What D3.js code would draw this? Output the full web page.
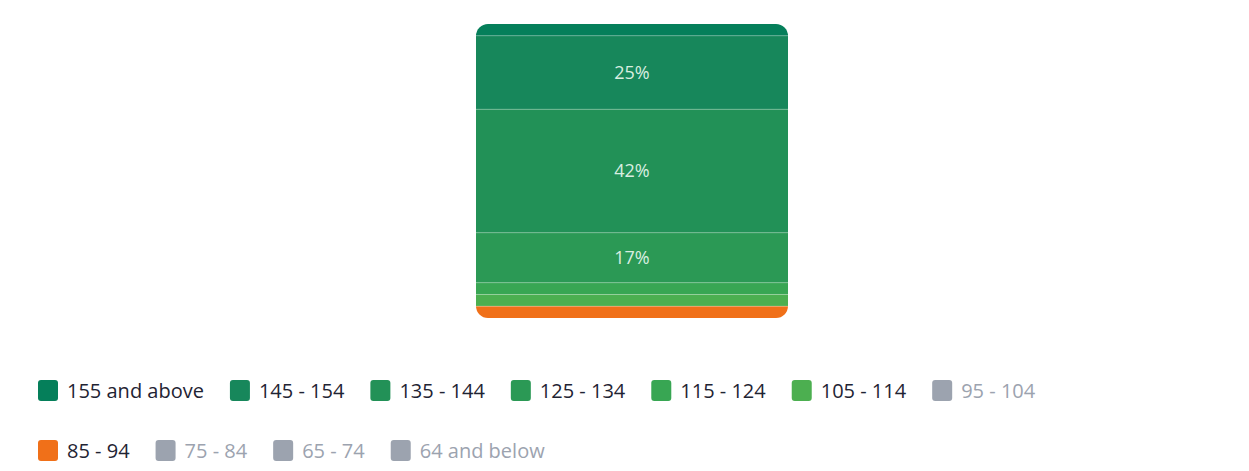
<!DOCTYPE html><html><head><meta charset="utf-8"><script src="https://cdn.jsdelivr.net/npm/d3@7"></script>
<style>body{margin:0;background:#fff}</style></head><body><svg id="c" width="1249" height="471"></svg>
<script>
const categories=["155 and above","145 - 154","135 - 144","125 - 134","115 - 124","105 - 114","95 - 104","85 - 94","75 - 84","65 - 74","64 and below"];
const values=[4,25,42,17,4,4,0,4,0,0,0];
const colors=["#057f5a","#17875b","#229157","#2b9955","#38a653","#4caf50","#9ca3af","#f07019","#9ca3af","#9ca3af","#9ca3af"];
const hidden=["95 - 104","75 - 84","65 - 74","64 and below"];
const svg=d3.select("#c");
const y=d3.scaleLinear().domain([0,100]).range([24,318]);
const x0=476,x1=788;
svg.append("clipPath").attr("id","cp").append("rect").attr("x",x0).attr("y",y(0)).attr("width",x1-x0).attr("height",y(100)-y(0)).attr("rx",12);
const g=svg.append("g").attr("clip-path","url(#cp)");
let acc=0;const segs=[];
categories.forEach((c,i)=>{if(values[i]>0&&!hidden.includes(c)){segs.push({c,v:values[i],a:acc,col:colors[i]});acc+=values[i];}});
g.selectAll("rect").data(segs).join("rect").attr("x",x0).attr("width",x1-x0)
 .attr("y",d=>y(d.a)).attr("height",d=>y(d.a+d.v)-y(d.a)).attr("fill",d=>d.col);
g.selectAll("line").data(segs.slice(1)).join("line").attr("x1",x0).attr("x2",x1)
 .attr("y1",d=>y(d.a)).attr("y2",d=>y(d.a)).attr("stroke","rgba(255,255,255,0.25)").attr("stroke-width",1);
svg.selectAll("text.l").data(segs.filter(d=>d.v>=10)).join("text").attr("class","l")
 .attr("x",(x0+x1)/2).attr("y",d=>y(d.a+d.v/2)).attr("dy","0.35em").attr("text-anchor","middle")
 .attr("font-family","Open Sans, Noto Sans, sans-serif").attr("font-size",18).attr("fill","#d9eee0").text(d=>d.v+"%");
// legend
const rows=[[0,7],[7,11]];const rowY=[391,451];
rows.forEach(([s,e],r)=>{let cx=38;
 for(let i=s;i<e;i++){const hid=hidden.includes(categories[i]);
  const it=svg.append("g");
  it.append("rect").attr("x",cx).attr("y",rowY[r]-11).attr("width",20).attr("height",21).attr("rx",3).attr("fill",colors[i]);
  const t=it.append("text").attr("x",cx+29).attr("y",rowY[r]).attr("dy","0.35em").attr("font-family","Open Sans, Noto Sans, sans-serif")
   .attr("font-size",20).attr("fill",hid?"#9ca3af":"#1f2433").text(categories[i]);
  cx+=29+t.node().getComputedTextLength()+26;}
});
</script></body></html>
